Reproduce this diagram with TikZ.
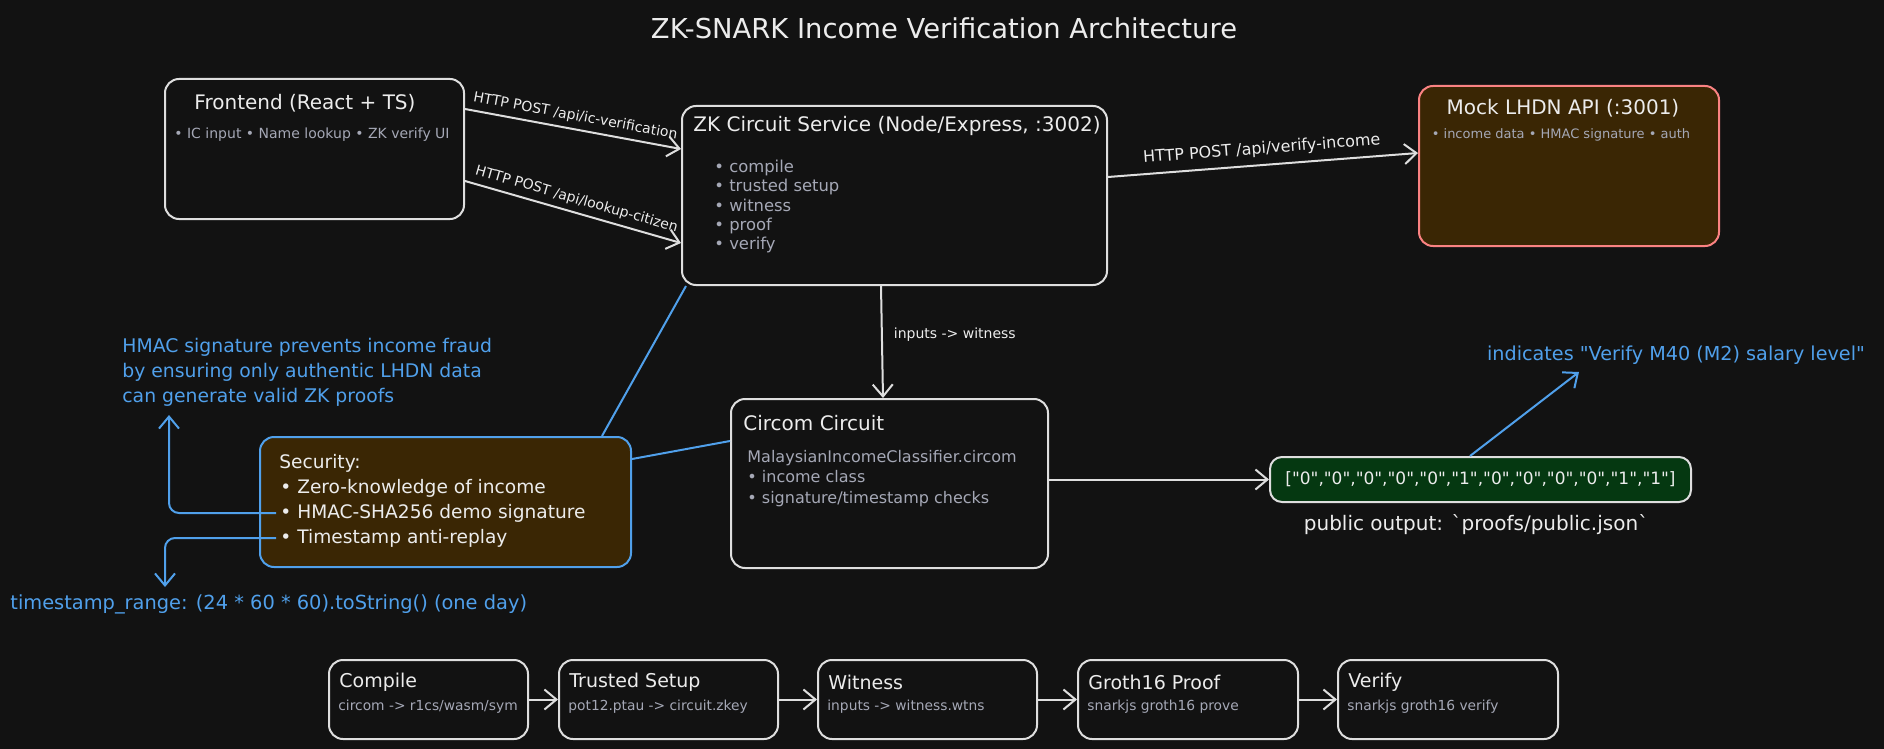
\documentclass[tikz,border=0pt]{standalone}
\usepackage{fontspec}
\setmainfont{DejaVu Sans}[Ligatures=TeXOff]
\usetikzlibrary{arrows.meta, positioning}
\definecolor{bg}{RGB}{18,18,18}
\definecolor{edge}{RGB}{222,222,222}
\definecolor{ink}{RGB}{236,236,236}
\definecolor{muted}{RGB}{165,168,182}
\definecolor{note}{RGB}{80,160,235}
\definecolor{brownfill}{RGB}{58,38,4}
\definecolor{salmon}{RGB}{250,130,130}
\definecolor{greenfill}{RGB}{5,56,17}

\begin{document}
\begin{tikzpicture}[x=0.5pt, y=-0.5pt,
    box/.style={draw=edge, line width=1pt, rounded corners=7pt, fill=bg, anchor=north west, inner sep=0pt},
    txt/.style={inner sep=0pt, anchor=west, text=ink},
    head/.style={txt, font=\fontsize{10}{12}\selectfont},
    subtxt/.style={txt, text=muted, font=\fontsize{7}{8.4}\selectfont},
    notetxt/.style={txt, text=note, font=\fontsize{9.4}{12.5}\selectfont},
    lbl/.style={text=ink, inner sep=2.5pt, font=\fontsize{7}{8.4}\selectfont},
    arr/.style={draw=edge, line width=1pt, -{Straight Barb[length=6pt, width=10pt]}},
    bluearr/.style={draw=note, line width=1pt, rounded corners=5pt, -{Straight Barb[length=6pt, width=10pt]}},
    blueline/.style={draw=note, line width=1pt}]
    \fill[bg] (0,0) rectangle (1884,749);

    \node[font=\fontsize{13.7}{16}\selectfont, text=ink] (title) at (944,28) {ZK-SNARK Income Verification Architecture};

    % top row
    \node[box, minimum width=149.5pt, minimum height=70pt] (fe) at (164,78) {};
    \node[head, anchor=center] (fe-t) at (305,103) {Frontend (React + TS)};
    \node[subtxt, anchor=center] (fe-s) at (312,135) {• IC input • Name lookup • ZK verify UI};

    \node[box, minimum width=212.5pt, minimum height=89.5pt] (zk) at (681,105) {};
    \node[head] (zk-t) at (693,126) {ZK Circuit Service (Node/Express, :3002)};
    \node[subtxt, font=\fontsize{8.2}{9.6}\selectfont, align=left] (zk-b) at (714,206.5) {• compile\\• trusted setup\\• witness\\• proof\\• verify};

    \node[box, draw=salmon, fill=brownfill, minimum width=150pt, minimum height=80pt] (mock) at (1418,85) {};
    \node[head, anchor=center] (mock-t) at (1563,108) {Mock LHDN API (:3001)};
    \node[subtxt, anchor=center, font=\fontsize{6.5}{7.8}\selectfont] (mock-s) at (1561,135) {• income data • HMAC signature • auth};

    \draw[arr] (fe.east |- 0,109) -- node[lbl, sloped, above] (l-ic) {HTTP POST /api/ic-verification} (zk.west |- 0,149);
    \draw[arr] (fe.east |- 0,181) -- node[lbl, sloped, above] (l-lookup) {HTTP POST /api/lookup-citizen} (zk.west |- 0,243);
    \draw[arr] (zk.east |- 0,177) -- node[lbl, sloped, above, inner sep=3.5pt, font=\fontsize{8}{9.6}\selectfont] (l-income) {HTTP POST /api/verify-income} (mock.west |- 0,153);

    % middle row
    \node[box, draw=note, fill=brownfill, minimum width=185.5pt, minimum height=65pt] (sec) at (259,436) {};
    \node[txt, font=\fontsize{9.3}{11}\selectfont] (secT) at (279,463) {Security:};
    \node[txt, font=\fontsize{9.3}{11}\selectfont] (secB1) at (280,488) {• Zero-knowledge of income};
    \node[txt, font=\fontsize{9.3}{11}\selectfont] (secB2) at (280,513) {• HMAC-SHA256 demo signature};
    \node[txt, font=\fontsize{9.3}{11}\selectfont] (secB3) at (280,538) {• Timestamp anti-replay};

    \node[box, minimum width=158.5pt, minimum height=84.5pt] (cc) at (730,398) {};
    \node[head] (cc-t) at (743,423) {Circom Circuit};
    \node[subtxt, font=\fontsize{8}{10.25}\selectfont, align=left] (cc-b) at (747,478.5) {MalaysianIncomeClassifier.circom\\• income class\\• signature/timestamp checks};

    \node[box, fill=greenfill, rounded corners=6pt, minimum width=210.5pt, minimum height=22.5pt, text=ink, font=\fontsize{8.5}{10}\selectfont] (out) at (1269,456) {["0","0","0","0","0","1","0","0","0","0","1","1"]};
    \node[text=ink, inner sep=0pt, font=\fontsize{10}{12}\selectfont] (pub) at (1476,525) {public output: `proofs/public.json`};

    \draw[arr] (zk.south -| 881,0) -- node[lbl, pos=0.43, right=3pt] (l-wit) {inputs -> witness} (cc.north -| 883,0);
    \draw[arr] (cc.east |- out.west) -- (out.west);

    \draw[blueline] ([xshift=-15pt]sec.north east) -- ([xshift=2.5pt]zk.south west);
    \draw[blueline] (sec.east |- 0,459) -- (cc.west |- 0,441);

    % notes
    \node[notetxt, align=left] (hmac) at (122,372) {HMAC signature prevents income fraud\\by ensuring only authentic LHDN data\\can generate valid ZK proofs};
    \node[notetxt, font=\fontsize{9.7}{12}\selectfont] (ts) at (10,604) {timestamp\_range: (24 * 60 * 60).toString() (one day)};
    \node[notetxt, anchor=center, font=\fontsize{9.6}{12}\selectfont] (ind) at (1676,355) {indicates "Verify M40 (M2) salary level"};

    \coordinate (hmacTip) at (169,415);
    \coordinate (tsTip) at (165,587);
    \coordinate (indTip) at (1579,372);
    \draw[bluearr] ([xshift=-2pt]secB2.west) -| (hmacTip);
    \draw[bluearr] ([xshift=-2pt]secB3.west) -| (tsTip);
    \draw[bluearr] (out.north -| 1470,0) -- (indTip);

    % pipeline
    \foreach \bx/\bw/\bn/\bt/\bs in {328/99.5pt/comp/Compile/{circom -> r1cs/wasm/sym},
        558/109.5pt/trust/Trusted Setup/{pot12.ptau -> circuit.zkey},
        817/109.5pt/wit/Witness/{inputs -> witness.wtns},
        1077/110pt/groth/Groth16 Proof/{snarkjs groth16 prove},
        1337/110pt/ver/Verify/{snarkjs groth16 verify}} {
        \node[box, minimum width=\bw, minimum height=39.5pt] (\bn) at (\bx,659) {};
        \node[head, font=\fontsize{9.5}{11}\selectfont] (\bn-t) at (\bx+11,682) {\bt};
        \node[subtxt, font=\fontsize{6.9}{8.4}\selectfont] (\bn-s) at (\bx+10,707) {\bs};
    }
    \foreach \a/\b in {comp/trust, trust/wit, wit/groth, groth/ver}
        \draw[arr] (\a) -- (\b);
\end{tikzpicture}
\end{document}
